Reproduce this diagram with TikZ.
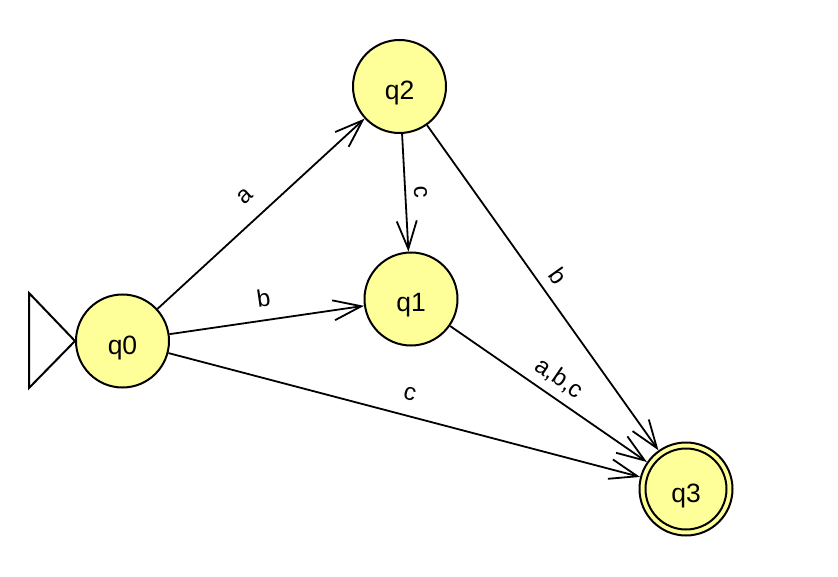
\documentclass[tikz,border=0pt]{standalone}
\usepackage{fontspec}
\setmainfont{Liberation Sans}
\usetikzlibrary{arrows.meta}
\definecolor{stfill}{RGB}{255,255,153}
\begin{document}
\begin{tikzpicture}[x=1pt,y=-1pt,
  state/.style={circle, draw, line width=2pt, fill=stfill, minimum size=93pt, inner sep=0pt, text height=26pt, text depth=0pt, font=\fontsize{26.5}{30}\selectfont},
  edge/.style={line width=1.8pt, -{Straight Barb[length=28pt,width=20pt,line width=1.8pt]}},
  lab/.style={sloped, anchor=base, inner sep=0pt, font=\fontsize{24}{28}\selectfont, yshift=#1},
  lab/.default=14pt]
\useasboundingbox (0,0) rectangle (838,577);
\node[state] (q0) at (122.5,341) {q0};
\node[state] (q2) at (399.5,86.5) {q2};
\node[state] (q1) at (411,299) {q1};
\node[state] (q3) at (686,489) {q3};
\draw[line width=2pt] (q3.center) circle (40.5pt);
\draw[line width=2pt, fill=white] (29,293) -- (q0.west) -- (29,388) -- cycle;
\draw[edge] (q0) -- node[lab=17pt] {a} (q2);
\draw[edge] (q0) -- node[lab=14pt] {b} (q1);
\draw[edge] (q0) -- node[lab=15pt] {c} (q3);
\draw[edge] (q2) -- node[lab=9pt] {c} (q1);
\draw[edge] (q2) -- node[lab=11pt] {b} (q3);
\draw[edge] (q1) -- node[lab=12pt] {a,b,c} (q3);
\end{tikzpicture}
\end{document}
